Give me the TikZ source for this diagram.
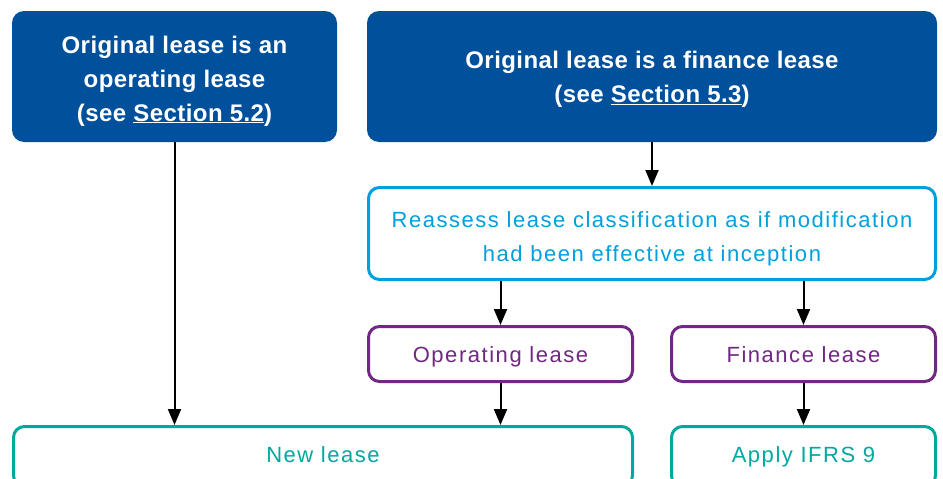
\documentclass[tikz,border=0pt]{standalone}
\usepackage{fontspec}
\setmainfont{Liberation Sans}
\newfontfamily\lightfont[LetterSpace=7]{Liberation Sans}
\newfontfamily\titlefont[LetterSpace=1.8]{Liberation Sans}
\usetikzlibrary{arrows.meta}
\definecolor{kblue}{RGB}{0,80,155}
\definecolor{kcyan}{RGB}{0,160,222}
\definecolor{kpurple}{RGB}{112,40,130}
\definecolor{kteal}{RGB}{0,168,160}
\newcommand\mystrut[2]{\rule[-#1]{0pt}{#2}}
\tikzset{
  topbox/.style={fill=kblue, draw=none, rounded corners=12pt, text=white, align=center,
    font=\titlefont\bfseries\fontsize{24}{34}\selectfont, inner sep=0pt},
  cyanbox/.style={draw=kcyan, line width=3pt, fill=white, rounded corners=11pt, text=kcyan, align=center,
    font=\lightfont\fontsize{22}{34}\selectfont, inner sep=0pt},
  purplebox/.style={draw=kpurple, line width=3pt, fill=white, rounded corners=11pt, text=kpurple, align=center,
    font=\lightfont\fontsize{22}{30}\selectfont, inner sep=0pt},
  tealbox/.style={draw=kteal, line width=3pt, fill=white, rounded corners=11pt, text=kteal, align=center,
    font=\lightfont\fontsize{22}{30}\selectfont, inner sep=0pt},
  arr/.style={draw=black, line width=2pt, -{Triangle[length=16pt,width=13pt]}}
}
\begin{document}
\begin{tikzpicture}[x=1pt,y=-1pt]
\useasboundingbox (0,0) rectangle (943,479);
\begin{scope}
\clip (0,0) rectangle (943,479);
\node[topbox, minimum width=325pt, minimum height=131pt] (A) at (174.5,76.5)
  {\mystrut{0pt}{26pt}Original lease is an\\ operating lease\\ (see \underline{Section 5.2})};
\node[topbox, minimum width=570pt, minimum height=131pt] (B) at (652,76.5)
  {\mystrut{0pt}{23.5pt}Original lease is a finance lease\\ (see \underline{Section 5.3})};
\node[cyanbox, minimum width=567pt, minimum height=92pt] (R) at (652,233.5)
  {\mystrut{0pt}{26pt}Reassess lease classification as if modification\\ had been effective at inception};
\node[purplebox, minimum width=264pt, minimum height=55pt] (OL) at (500.5,354) {\mystrut{0pt}{22pt}Operating lease};
\node[purplebox, minimum width=264pt, minimum height=55pt] (FL) at (803.5,354) {\mystrut{0pt}{18pt}Finance lease};
\node[tealbox, minimum width=619pt, minimum height=60pt] (NL) at (323,456.5) {\mystrut{4.5pt}{0pt}New lease};
\node[tealbox, minimum width=264pt, minimum height=60pt] (IF) at (803.5,456.5) {Apply IFRS 9};
\draw[arr] (A.south) -- (A.south |- NL.north);
\draw[arr] (B.south) -- (R.north);
\draw[arr] (R.south -| OL.north) -- (OL.north);
\draw[arr] (R.south -| FL.north) -- (FL.north);
\draw[arr] (OL.south) -- (OL.south |- NL.north);
\draw[arr] (FL.south) -- (IF.north);
\end{scope}
\end{tikzpicture}
\end{document}
